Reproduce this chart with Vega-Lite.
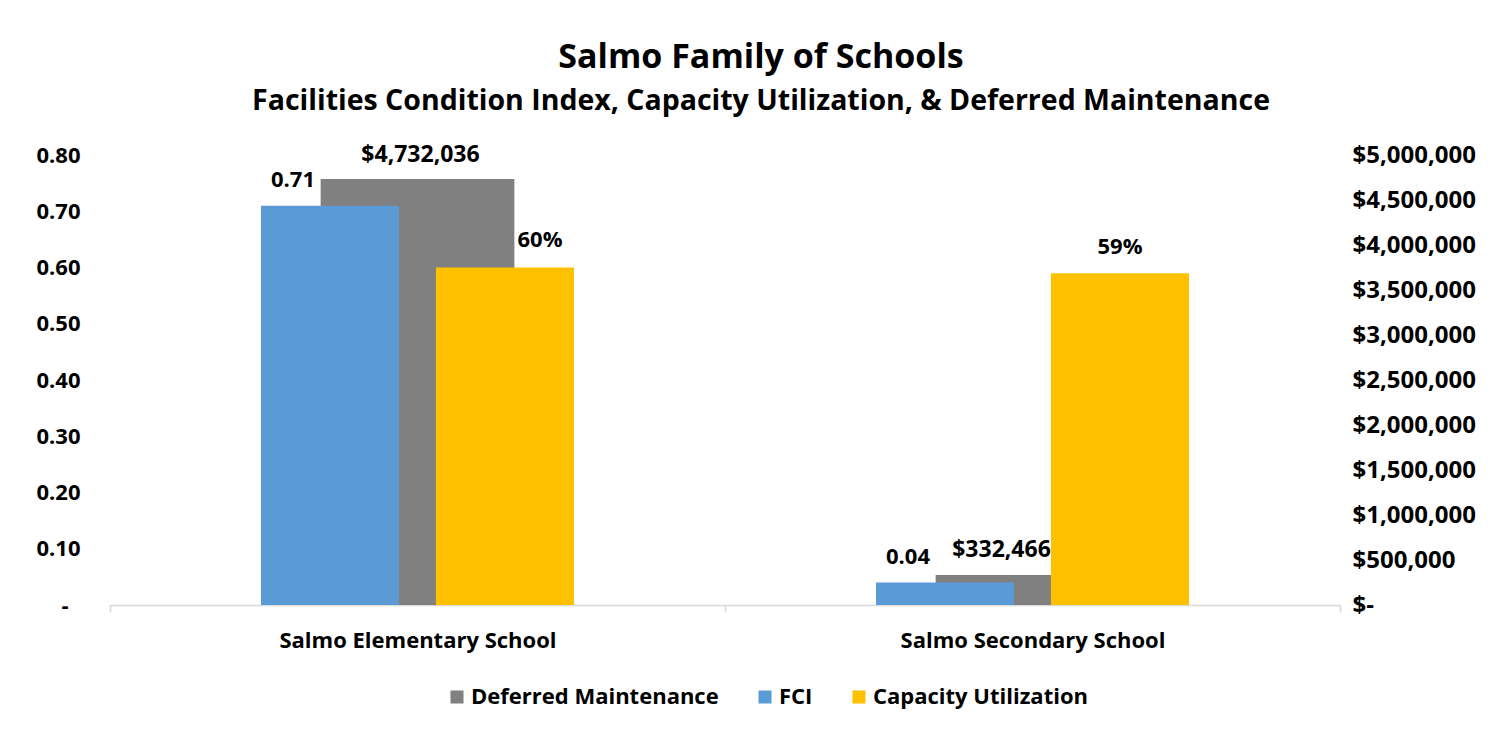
{
  "$schema": "https://vega.github.io/schema/vega-lite/v6.json",
  "autosize": "none",
  "width": 1230,
  "height": 450,
  "padding": {"left": 110, "top": 155, "right": 163, "bottom": 130},
  "background": "white",
  "title": {
    "text": "Salmo Family of Schools",
    "subtitle": "Facilities Condition Index, Capacity Utilization, & Deferred Maintenance",
    "anchor": "middle",
    "dx": 36,
    "offset": 28,
    "font": "Open Sans",
    "fontSize": 34,
    "fontWeight": "bold",
    "color": "#000000",
    "subtitleFont": "Open Sans",
    "subtitleFontSize": 28.5,
    "subtitleFontWeight": "bold",
    "subtitleColor": "#000000",
    "subtitlePadding": 12
  },
  "data": {
    "values": [
      {"school": "Salmo Elementary School", "series": "Deferred Maintenance", "value": 4732036},
      {"school": "Salmo Elementary School", "series": "FCI", "value": 0.71},
      {"school": "Salmo Elementary School", "series": "Capacity Utilization", "value": 0.60},
      {"school": "Salmo Secondary School", "series": "Deferred Maintenance", "value": 332466},
      {"school": "Salmo Secondary School", "series": "FCI", "value": 0.04},
      {"school": "Salmo Secondary School", "series": "Capacity Utilization", "value": 0.59}
    ]
  },
  "encoding": {
    "x": {
      "field": "school",
      "type": "nominal",
      "sort": null,
      "scale": {"paddingInner": 0, "paddingOuter": 0},
      "axis": {
        "title": null,
        "labelAngle": 0,
        "labelLimit": 0,
        "labelFont": "Open Sans",
        "labelFontSize": 22,
        "labelFontWeight": "bold",
        "labelColor": "#000000",
        "labelPadding": 18,
        "domainColor": "#d9d9d9",
        "domainWidth": 1.5,
        "tickColor": "#d9d9d9",
        "tickWidth": 1.5,
        "tickSize": 7,
        "tickBand": "extent",
        "grid": false
      }
    }
  },
  "layer": [
    {
      "transform": [{"filter": "datum.series == 'Deferred Maintenance'"}],
      "encoding": {
        "y": {
          "field": "value",
          "type": "quantitative",
          "scale": {"domain": [0, 5000000], "nice": false},
          "axis": {
            "orient": "right",
            "title": null,
            "values": [0, 500000, 1000000, 1500000, 2000000, 2500000, 3000000, 3500000, 4000000, 4500000, 5000000],
            "labelExpr": "datum.value == 0 ? '$-' : '$' + format(datum.value, ',')",
            "labelFont": "Open Sans",
            "labelFontSize": 24,
            "labelFontWeight": "bold",
            "labelColor": "#000000",
            "labelPadding": 12,
            "labelLimit": 0,
            "domain": false,
            "ticks": false,
            "grid": false
          }
        }
      },
      "layer": [
        {
          "mark": {"type": "bar", "width": {"band": 0.315}},
          "encoding": {
            "color": {
              "field": "series",
              "type": "nominal",
              "scale": {
                "domain": ["Deferred Maintenance", "FCI", "Capacity Utilization"],
                "range": ["#808080", "#5b9bd5", "#ffc000"]
              },
              "legend": {
                "title": null,
                "orient": "none",
                "direction": "horizontal",
                "legendX": 336,
                "legendY": 531,
                "symbolType": "square",
                "symbolSize": 170,
                "symbolStrokeWidth": 0,
                "labelFont": "Open Sans",
                "labelFontSize": 22,
                "labelFontWeight": "bold",
                "labelColor": "#000000",
                "labelOffset": 3,
                "labelLimit": 0,
                "columnPadding": 35
              }
            }
          }
        },
        {
          "transform": [{"filter": "datum.school == 'Salmo Elementary School'"}],
          "mark": {"type": "text", "font": "Open Sans", "fontSize": 23, "fontWeight": "bold", "baseline": "alphabetic", "dx": 3, "dy": -17, "color": "#000000"},
          "encoding": {"text": {"field": "value", "format": "$,.0f"}}
        },
        {
          "transform": [{"filter": "datum.school == 'Salmo Secondary School'"}],
          "mark": {"type": "text", "font": "Open Sans", "fontSize": 23, "fontWeight": "bold", "baseline": "alphabetic", "dx": -31, "dy": -18, "color": "#000000"},
          "encoding": {"text": {"field": "value", "format": "$,.0f"}}
        }
      ]
    },
    {
      "transform": [{"filter": "datum.series != 'Deferred Maintenance'"}],
      "encoding": {
        "xOffset": {
          "field": "series",
          "type": "nominal",
          "sort": ["FCI", "Capacity Utilization"],
          "scale": {"domain": ["FCI", "Capacity Utilization"], "paddingInner": 0.211, "paddingOuter": 0.863}
        },
        "y": {
          "field": "value",
          "type": "quantitative",
          "scale": {"domain": [0, 0.8], "nice": false},
          "axis": {
            "orient": "left",
            "title": null,
            "values": [0, 0.1, 0.2, 0.3, 0.4, 0.5, 0.6, 0.7, 0.8],
            "labelExpr": "datum.value == 0 ? '-' : format(datum.value, '.2f')",
            "labelFont": "Open Sans",
            "labelFontSize": 22,
            "labelFontWeight": "bold",
            "labelColor": "#000000",
            "labelPadding": {"condition": {"test": "datum.value == 0", "value": 42}, "value": 30},
            "domain": false,
            "ticks": false,
            "grid": false
          }
        }
      },
      "layer": [
        {
          "mark": {"type": "bar"},
          "encoding": {"color": {"field": "series", "type": "nominal"}}
        },
        {
          "transform": [{"filter": "datum.series == 'FCI'"}],
          "mark": {"type": "text", "font": "Open Sans", "fontSize": 22, "fontWeight": "bold", "baseline": "alphabetic", "dx": -37, "dy": -19, "color": "#000000"},
          "encoding": {"text": {"field": "value", "format": ".2f"}}
        },
        {
          "transform": [{"filter": "datum.series == 'Capacity Utilization' && datum.school == 'Salmo Elementary School'"}],
          "mark": {"type": "text", "font": "Open Sans", "fontSize": 22, "fontWeight": "bold", "baseline": "alphabetic", "dx": 35, "dy": -21, "color": "#000000"},
          "encoding": {"text": {"field": "value", "format": ".0%"}}
        },
        {
          "transform": [{"filter": "datum.series == 'Capacity Utilization' && datum.school == 'Salmo Secondary School'"}],
          "mark": {"type": "text", "font": "Open Sans", "fontSize": 22, "fontWeight": "bold", "baseline": "alphabetic", "dy": -19, "color": "#000000"},
          "encoding": {"text": {"field": "value", "format": ".0%"}}
        }
      ]
    }
  ],
  "resolve": {"scale": {"y": "independent"}},
  "config": {
    "view": {"stroke": null}
  }
}
